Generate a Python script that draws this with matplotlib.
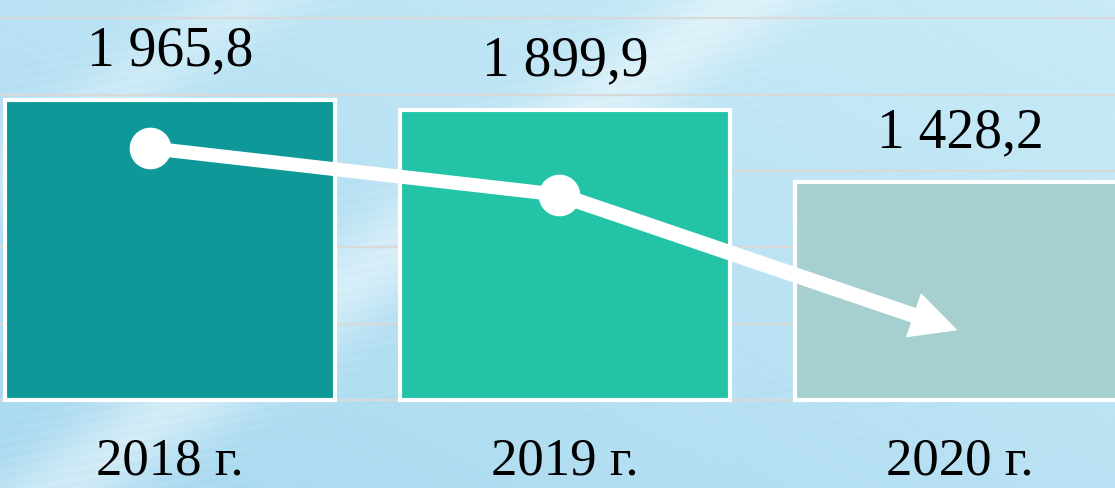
import matplotlib.pyplot as plt
import numpy as np

# Data
years = ['2018 г.', '2019 г.', '2020 г.']
values = [1965.8, 1899.9, 1428.2]
value_labels = ['1 965,8', '1 899,9', '1 428,2']
trend = [1650, 1345, 460]
bar_colors = ['#0e9898', '#22c3a6', '#a6d0cf']

plt.rcParams['font.family'] = ['Liberation Serif', 'DejaVu Serif']

fig = plt.figure(figsize=(11.15, 4.88), dpi=100)
ax = fig.add_axes([0, 0, 1, 1])
ax.set_xlim(-0.43, 2.392)
ax.set_ylim(-577, 2621)

# Background: soft blue gradient with light diagonal streaks
h, w = 244, 558
yy, xx = np.mgrid[0:1:h * 1j, 0:1:w * 1j]
base = np.array([0.66, 0.85, 0.94])
light = np.array([0.84, 0.95, 0.98])
t = np.clip(0.35 * xx + 0.35 * (1 - yy), 0, 1)
img = base[None, None, :] * (1 - t[..., None]) + light[None, None, :] * t[..., None]
d = xx * 0.9 - (1 - yy) * 0.55
streak = np.exp(-((d - 0.05) / 0.06) ** 2) * 0.45 + np.exp(-((d + 0.35) / 0.05) ** 2) * 0.3
streak += 0.04 * np.sin((xx * 2.0 + yy * 5.0) * 60)
streak = np.clip(streak, 0, 1)
img = img + (1 - img) * streak[..., None]
ax.imshow(np.clip(img, 0, 1), extent=(-0.43, 2.392, -577, 2621), aspect='auto', zorder=0)

# Grid lines
ax.set_yticks([0, 500, 1000, 1500, 2000, 2500])
ax.yaxis.grid(True, color='#d9d9d9', linewidth=1.6, zorder=1)
ax.set_axisbelow(True)
ax.tick_params(left=False, bottom=False, labelleft=False, labelbottom=False)
for s in ax.spines.values():
    s.set_visible(False)

x = np.arange(len(years))
ax.bar(x, values, width=0.835, color=bar_colors, edgecolor='white', linewidth=3, zorder=2)

for xi, v, lab in zip(x, values, value_labels):
    ax.annotate(lab, (xi, v), xytext=(0, 25), textcoords='offset points',
                ha='center', va='baseline', fontsize=40, color='black', zorder=5)

for xi, lab in zip(x, years):
    ax.annotate(lab, (xi, 0), xytext=(0, -54), textcoords='offset points',
                ha='center', va='baseline', fontsize=38, color='black', zorder=5)

# Trend line with arrow
tx = x + np.array([-0.05, -0.015, -0.01])
ax.plot(tx[:2], trend[:2], color='white', linewidth=10, solid_capstyle='butt', zorder=3)
ax.annotate('', xy=(tx[2], trend[2]), xytext=(tx[1], trend[1]),
            arrowprops=dict(arrowstyle='simple,head_length=1.6,head_width=1.6,tail_width=0.5',
                            mutation_scale=20, color='white', shrinkA=0, shrinkB=0),
            zorder=3)
ax.plot(tx[:2], trend[:2], 'o', color='white', markersize=29, zorder=4)

fig.savefig('out.png', dpi=100)
